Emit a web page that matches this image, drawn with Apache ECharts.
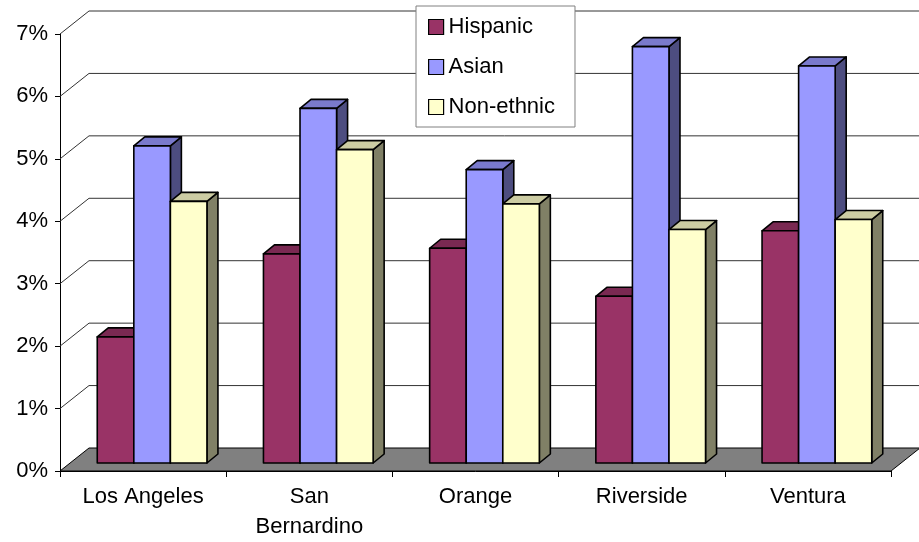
<!DOCTYPE html>
<html>
<head>
<meta charset="utf-8">
<script src="https://cdn.jsdelivr.net/npm/echarts@6/dist/echarts.min.js"></script>
<style>
  html, body { margin: 0; padding: 0; background: #fff; }
  #chart { width: 919px; height: 542px; }
</style>
</head>
<body>
<div id="chart"></div>
<script>
// Counties along the category axis
const counties = ['Los Angeles', 'San\nBernardino', 'Orange', 'Riverside', 'Ventura'];

// Share of each group, in percent
const hispanic   = [2.02, 3.35, 3.44, 2.67, 3.72];
const asian      = [5.08, 5.68, 4.70, 6.67, 6.36];
const nonEthnic  = [4.19, 5.02, 4.15, 3.74, 3.90];

// Value-axis ticks (percent)
const yTicks = [0, 1, 2, 3, 4, 5, 6, 7];

// Perspective offsets for the pseudo-3D look
const WALL_DX = 29, WALL_DY = -23;     // depth of floor / back wall
const BAR_FX = 9, BAR_FY = -8;          // bar front plane inside the floor
const BAR_DX = 11, BAR_DY = -9;         // depth of each bar
const CATEGORY_GAP = 0.34;

const FONT = "'Liberation Sans', Arial, sans-serif";

const palette = {
  Hispanic:     { front: '#993366', top: '#7A2952', side: '#4D1A33' },
  Asian:        { front: '#9999FF', top: '#7A7ACC', side: '#4D4D80' },
  'Non-ethnic': { front: '#FFFFCC', top: '#CCCCA3', side: '#808066' }
};

function barRenderer(slot, colors) {
  return function (params, api) {
    const cat = api.value(0);
    const val = api.value(1);
    const base = api.coord([cat, 0]);
    const top = api.coord([cat, val]);
    const catW = api.size([1, 0])[0];
    const bw = catW * (1 - CATEGORY_GAP) / 3;
    const x0 = base[0] - 1.5 * bw + slot * bw + BAR_FX;
    const yb = base[1] + BAR_FY;
    const yt = top[1] + BAR_FY;
    const stroke = { stroke: '#000', lineWidth: 1.6, lineJoin: 'round' };
    return {
      type: 'group',
      children: [
        {
          type: 'polygon',
          shape: { points: [[x0 + bw, yt], [x0 + bw + BAR_DX, yt + BAR_DY], [x0 + bw + BAR_DX, yb + BAR_DY], [x0 + bw, yb]] },
          style: Object.assign({ fill: colors.side }, stroke)
        },
        {
          type: 'polygon',
          shape: { points: [[x0, yt], [x0 + bw, yt], [x0 + bw + BAR_DX, yt + BAR_DY], [x0 + BAR_DX, yt + BAR_DY]] },
          style: Object.assign({ fill: colors.top }, stroke)
        },
        {
          type: 'rect',
          shape: { x: x0, y: yt, width: bw, height: yb - yt },
          style: Object.assign({ fill: colors.front }, stroke)
        }
      ]
    };
  };
}

function wallRenderer(params, api) {
  const cs = params.coordSys;
  const left = cs.x, right = cs.x + cs.width;
  const y = api.coord([0, api.value(1)])[1];
  if (api.value(1) === 0) {
    return {
      type: 'polygon',
      shape: { points: [[left, y], [right, y], [right + WALL_DX, y + WALL_DY], [left + WALL_DX, y + WALL_DY]] },
      style: { fill: '#808080', stroke: '#000', lineWidth: 1 }
    };
  }
  return {
    type: 'polyline',
    shape: { points: [[left, y], [left + WALL_DX, y + WALL_DY], [right + WALL_DX + 10, y + WALL_DY]] },
    style: { fill: null, stroke: '#333', lineWidth: 1 }
  };
}

function seriesData(values) {
  return values.map((v, i) => [i, v]);
}

const groups = [
  ['Hispanic', hispanic],
  ['Asian', asian],
  ['Non-ethnic', nonEthnic]
];

const chart = echarts.init(document.getElementById('chart'), null, { renderer: 'canvas' });

chart.setOption({
  animation: false,
  backgroundColor: '#fff',
  textStyle: { fontFamily: FONT },
  grid: { left: 60, right: 28, top: 34, bottom: 68 },
  legend: {
    orient: 'vertical',
    left: 416,
    top: 6,
    padding: [8, 20, 7, 12],
    itemGap: 14,
    itemWidth: 15,
    itemHeight: 15,
    backgroundColor: '#fff',
    borderColor: '#808080',
    borderWidth: 1,
    borderRadius: 0,
    textStyle: { fontSize: 22, color: '#000', fontFamily: FONT, lineHeight: 26 },
    data: groups.map(([name]) => ({
      name: name,
      icon: 'rect',
      itemStyle: { color: palette[name].front, borderColor: '#000', borderWidth: 1.2 }
    })),
    z: 10
  },
  xAxis: {
    type: 'category',
    data: counties,
    axisLine: { show: true, lineStyle: { color: '#000', width: 1 } },
    axisTick: { show: true, length: 6, alignWithLabel: false, lineStyle: { color: '#000' } },
    axisLabel: {
      interval: 0,
      fontSize: 22,
      color: '#000',
      fontFamily: FONT,
      lineHeight: 30,
      margin: 11
    },
    splitLine: { show: false }
  },
  yAxis: {
    type: 'value',
    min: 0,
    max: 7,
    interval: 1,
    axisLine: { show: true, lineStyle: { color: '#000', width: 1 } },
    axisTick: { show: true, length: 5, inside: false, lineStyle: { color: '#000' } },
    axisLabel: {
      formatter: '{value}%',
      fontSize: 22,
      color: '#000',
      fontFamily: FONT,
      margin: 12
    },
    splitLine: { show: false }
  },
  series: [
    {
      type: 'custom',
      name: 'wall',
      silent: true,
      clip: false,
      z: 1,
      renderItem: wallRenderer,
      data: yTicks.map(v => [0, v])
    }
  ].concat(groups.map(([name, values], slot) => ({
    type: 'custom',
    name: name,
    clip: false,
    z: 3,
    itemStyle: { color: palette[name].front },
    renderItem: barRenderer(slot, palette[name]),
    data: seriesData(values)
  })))
});
</script>
</body>
</html>
